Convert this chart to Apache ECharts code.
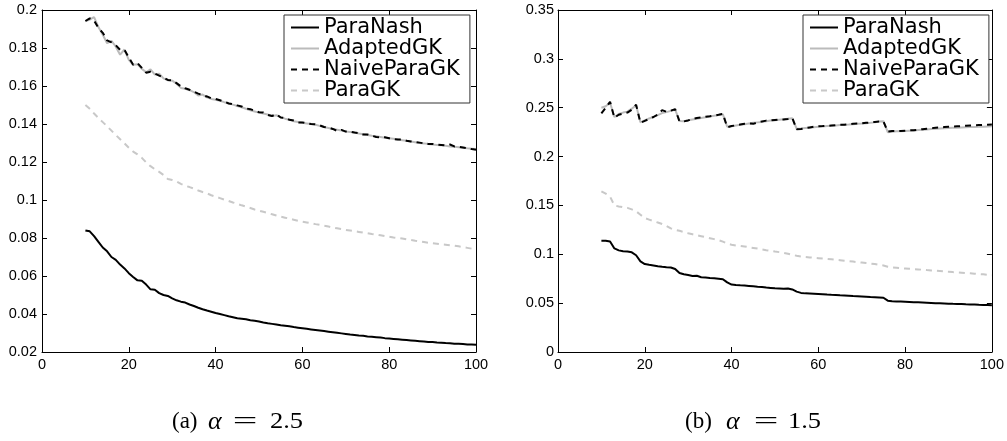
<!DOCTYPE html>
<html><head><meta charset="utf-8">
<script src="https://cdn.jsdelivr.net/npm/echarts@6/dist/echarts.min.js"></script>
<style>html,body{margin:0;padding:0;background:#fff}#c{width:1007px;height:441px}</style>
</head><body><div id="c"></div>
<script>
const seriesNames = ['ParaNash', 'AdaptedGK', 'NaiveParaGK', 'ParaGK'];
const xValues = [10,11,12,13,14,15,16,17,18,19,20,21,22,23,24,25,26,27,28,29,30,31,32,33,34,35,36,37,38,39,40,41,42,43,44,45,46,47,48,49,50,51,52,53,54,55,56,57,58,59,60,61,62,63,64,65,66,67,68,69,70,71,72,73,74,75,76,77,78,79,80,81,82,83,84,85,86,87,88,89,90,91,92,93,94,95,96,97,98,99,100];
const xTicks = [0, 20, 40, 60, 80, 100];
const leftYTicks = [0.02, 0.04, 0.06, 0.08, 0.1, 0.12, 0.14, 0.16, 0.18, 0.2];
const rightYTicks = [0, 0.05, 0.1, 0.15, 0.2, 0.25, 0.3, 0.35];
const captionLabels = ['(a)', '(b)'];
const captionAlphas = ['2.5', '1.5'];

const leftParaNash = [
0.0840,0.0835,0.0810,0.0780,0.0750,0.0730,0.0700,0.0685,0.0660,0.0640,
0.0615,0.0595,0.0577,0.0575,0.0555,0.0530,0.0528,0.0510,0.0500,0.0495,
0.0482,0.0472,0.0465,0.0460,0.0450,0.0442,0.0433,0.0425,0.0418,0.0412,
0.0405,0.0400,0.0394,0.0388,0.0383,0.0378,0.0375,0.0372,0.0367,0.0364,
0.0360,0.0355,0.0351,0.0348,0.0345,0.0341,0.0338,0.0335,0.0331,0.0328,
0.0325,0.0322,0.0319,0.0316,0.0313,0.0310,0.0307,0.0304,0.0301,0.0298,
0.0295,0.0292,0.0290,0.0287,0.0285,0.0282,0.0280,0.0278,0.0276,0.0273,
0.0271,0.0269,0.0267,0.0265,0.0263,0.0261,0.0259,0.0257,0.0255,0.0253,
0.0252,0.0250,0.0249,0.0247,0.0246,0.0244,0.0243,0.0242,0.0240,0.0239,
0.0238];
const leftAdaptedGK = [
0.1940,0.1950,0.1962,0.1910,0.1870,0.1825,0.1838,0.1807,0.1765,0.1792,
0.1738,0.1712,0.1715,0.1690,0.1672,0.1688,0.1660,0.1665,0.1640,0.1630,
0.1628,0.1612,0.1590,0.1585,0.1578,0.1568,0.1550,0.1555,0.1540,0.1532,
0.1528,0.1522,0.1515,0.1510,0.1502,0.1495,0.1488,0.1480,0.1472,0.1466,
0.1460,0.1455,0.1450,0.1442,0.1446,0.1436,0.1428,0.1422,0.1415,0.1410,
0.1406,0.1403,0.1400,0.1396,0.1390,0.1384,0.1379,0.1374,0.1370,0.1366,
0.1361,0.1358,0.1355,0.1350,0.1346,0.1342,0.1338,0.1335,0.1332,0.1328,
0.1325,0.1322,0.1318,0.1315,0.1312,0.1308,0.1304,0.1300,0.1298,0.1295,
0.1292,0.1290,0.1288,0.1285,0.1282,0.1280,0.1278,0.1275,0.1272,0.1270,
0.1268];
const leftNaiveParaGK = [
0.1942,0.1956,0.1945,0.1905,0.1880,0.1840,0.1830,0.1815,0.1790,0.1790,
0.1750,0.1712,0.1720,0.1695,0.1670,0.1675,0.1665,0.1655,0.1645,0.1632,
0.1630,0.1615,0.1598,0.1588,0.1580,0.1570,0.1560,0.1552,0.1545,0.1535,
0.1532,0.1525,0.1518,0.1508,0.1505,0.1498,0.1492,0.1482,0.1478,0.1470,
0.1462,0.1460,0.1448,0.1442,0.1452,0.1434,0.1432,0.1422,0.1418,0.1408,
0.1408,0.1404,0.1400,0.1398,0.1393,0.1384,0.1381,0.1374,0.1364,0.1369,
0.1360,0.1360,0.1355,0.1352,0.1345,0.1345,0.1338,0.1332,0.1330,0.1330,
0.1325,0.1320,0.1318,0.1318,0.1312,0.1308,0.1305,0.1302,0.1298,0.1295,
0.1295,0.1292,0.1290,0.1288,0.1292,0.1282,0.1280,0.1276,0.1272,0.1268,
0.1265];
const leftParaGK = [
0.1500,0.1480,0.1455,0.1432,0.1410,0.1388,0.1365,0.1342,0.1320,0.1298,
0.1275,0.1255,0.1240,0.1222,0.1198,0.1178,0.1162,0.1148,0.1132,0.1110,
0.1105,0.1098,0.1085,0.1075,0.1068,0.1060,0.1050,0.1042,0.1035,0.1025,
0.1018,0.1010,0.1002,0.0995,0.0987,0.0980,0.0972,0.0965,0.0958,0.0950,
0.0944,0.0938,0.0932,0.0925,0.0918,0.0912,0.0907,0.0902,0.0896,0.0890,
0.0886,0.0882,0.0878,0.0873,0.0869,0.0865,0.0860,0.0855,0.0851,0.0847,
0.0842,0.0839,0.0836,0.0832,0.0828,0.0825,0.0821,0.0818,0.0814,0.0810,
0.0807,0.0803,0.0800,0.0797,0.0793,0.0790,0.0786,0.0783,0.0779,0.0775,
0.0772,0.0770,0.0767,0.0765,0.0762,0.0760,0.0756,0.0752,0.0748,0.0744,
0.0740];

const rightParaNash = [
0.1138,0.1138,0.1130,0.1060,0.1040,0.1032,0.1028,0.1020,0.0990,0.0928,
0.0900,0.0892,0.0885,0.0878,0.0872,0.0868,0.0865,0.0850,0.0808,0.0795,
0.0788,0.0778,0.0780,0.0765,0.0762,0.0758,0.0755,0.0750,0.0745,0.0712,
0.0690,0.0685,0.0682,0.0680,0.0676,0.0672,0.0668,0.0665,0.0660,0.0656,
0.0652,0.0650,0.0648,0.0650,0.0640,0.0618,0.0605,0.0600,0.0598,0.0596,
0.0594,0.0592,0.0588,0.0585,0.0583,0.0580,0.0578,0.0575,0.0572,0.0570,
0.0568,0.0565,0.0562,0.0560,0.0558,0.0555,0.0525,0.0520,0.0518,0.0516,
0.0514,0.0512,0.0510,0.0508,0.0506,0.0504,0.0502,0.0500,0.0499,0.0497,
0.0495,0.0493,0.0492,0.0490,0.0488,0.0487,0.0485,0.0483,0.0482,0.0480,
0.0478];
const rightAdaptedGK = [
0.2500,0.2515,0.2550,0.2405,0.2435,0.2450,0.2460,0.2490,0.2525,0.2350,
0.2370,0.2390,0.2405,0.2425,0.2445,0.2455,0.2468,0.2480,0.2365,0.2362,
0.2372,0.2380,0.2388,0.2395,0.2402,0.2410,0.2418,0.2425,0.2432,0.2305,
0.2310,0.2318,0.2325,0.2330,0.2338,0.2345,0.2350,0.2355,0.2362,0.2368,
0.2372,0.2378,0.2382,0.2388,0.2392,0.2285,0.2288,0.2292,0.2296,0.2300,
0.2305,0.2308,0.2312,0.2315,0.2318,0.2322,0.2325,0.2328,0.2332,0.2335,
0.2338,0.2342,0.2345,0.2350,0.2358,0.2362,0.2250,0.2255,0.2258,0.2260,
0.2262,0.2265,0.2268,0.2272,0.2275,0.2278,0.2282,0.2285,0.2288,0.2290,
0.2292,0.2295,0.2296,0.2298,0.2300,0.2302,0.2303,0.2305,0.2306,0.2308,
0.2310];
const rightNaiveParaGK = [
0.2442,0.2500,0.2560,0.2398,0.2428,0.2440,0.2450,0.2480,0.2530,0.2345,
0.2365,0.2385,0.2405,0.2430,0.2475,0.2458,0.2470,0.2485,0.2360,0.2360,
0.2370,0.2385,0.2395,0.2400,0.2408,0.2412,0.2420,0.2428,0.2438,0.2300,
0.2312,0.2320,0.2328,0.2335,0.2340,0.2335,0.2350,0.2360,0.2368,0.2370,
0.2375,0.2380,0.2380,0.2385,0.2395,0.2280,0.2282,0.2290,0.2298,0.2305,
0.2310,0.2312,0.2315,0.2318,0.2320,0.2325,0.2325,0.2330,0.2335,0.2338,
0.2340,0.2345,0.2348,0.2355,0.2360,0.2360,0.2255,0.2262,0.2260,0.2262,
0.2265,0.2268,0.2270,0.2275,0.2280,0.2285,0.2290,0.2295,0.2298,0.2302,
0.2305,0.2308,0.2310,0.2312,0.2315,0.2318,0.2320,0.2322,0.2324,0.2326,
0.2328];
const rightParaGK = [
0.1645,0.1620,0.1590,0.1500,0.1490,0.1482,0.1475,0.1460,0.1440,0.1405,
0.1370,0.1355,0.1340,0.1325,0.1310,0.1290,0.1265,0.1250,0.1240,0.1228,
0.1215,0.1205,0.1195,0.1185,0.1175,0.1165,0.1155,0.1145,0.1130,0.1110,
0.1098,0.1090,0.1085,0.1080,0.1072,0.1065,0.1058,0.1050,0.1042,0.1035,
0.1028,0.1022,0.1015,0.1005,0.0995,0.0985,0.0978,0.0972,0.0968,0.0964,
0.0960,0.0956,0.0952,0.0948,0.0944,0.0940,0.0935,0.0930,0.0925,0.0920,
0.0915,0.0910,0.0905,0.0900,0.0892,0.0885,0.0872,0.0866,0.0862,0.0858,
0.0855,0.0852,0.0848,0.0845,0.0842,0.0838,0.0835,0.0832,0.0829,0.0826,
0.0822,0.0818,0.0815,0.0812,0.0808,0.0805,0.0802,0.0798,0.0795,0.0790,
0.0785];

const lineStyles = {
  ParaNash:    { color: '#000000', width: 2, type: 'solid' },
  AdaptedGK:   { color: '#bbbbbb', width: 2, type: 'solid' },
  NaiveParaGK: { color: '#000000', width: 2, type: [6, 5] },
  ParaGK:      { color: '#c8c8c8', width: 2, type: [6, 5] }
};

const chart = echarts.init(document.getElementById('c'), null, { renderer: 'canvas' });

const tickFont = { fontFamily: 'Liberation Sans', fontSize: 14.5, color: '#000' };
function xAxisPair(gi, ticks) {
  const base = {
    gridIndex: gi, type: 'value', min: ticks[0], max: ticks[ticks.length - 1],
    interval: ticks[1] - ticks[0], splitLine: { show: false },
    axisLine: { show: true, onZero: false, lineStyle: { color: '#000', width: 1 } },
    axisTick: { show: true, inside: true, length: 5, lineStyle: { color: '#000', width: 1 } }
  };
  return [
    Object.assign({}, base, { position: 'bottom',
      axisLabel: Object.assign({ show: true, margin: 5, showMinLabel: true, showMaxLabel: true, hideOverlap: false }, tickFont) }),
    Object.assign({}, base, { position: 'top', axisLabel: { show: false } })
  ];
}
function yAxisPair(gi, ticks, margin) {
  const base = {
    gridIndex: gi, type: 'value', min: ticks[0], max: ticks[ticks.length - 1],
    interval: Math.round((ticks[1] - ticks[0]) * 1000) / 1000, splitLine: { show: false },
    axisLine: { show: true, onZero: false, lineStyle: { color: '#000', width: 1 } },
    axisTick: { show: true, inside: true, length: 5, lineStyle: { color: '#000', width: 1 } }
  };
  return [
    Object.assign({}, base, { position: 'left',
      axisLabel: Object.assign({ show: true, margin: margin, showMinLabel: true, showMaxLabel: true, hideOverlap: false,
        formatter: v => String(Math.round(v * 1000) / 1000) }, tickFont) }),
    Object.assign({}, base, { position: 'right', axisLabel: { show: false } })
  ];
}

function pairs(vals) { return vals.map((v, i) => [xValues[i], v]); }
function mk(name, vals, axisIdx) {
  return {
    name: name, type: 'line', xAxisIndex: axisIdx, yAxisIndex: axisIdx,
    data: pairs(vals), symbol: 'none', showSymbol: false, smooth: false,
    lineStyle: lineStyles[name], itemStyle: { color: lineStyles[name].color },
    emphasis: { disabled: true }, silent: true
  };
}

const leftData = [leftParaNash, leftAdaptedGK, leftNaiveParaGK, leftParaGK];
const rightData = [rightParaNash, rightAdaptedGK, rightNaiveParaGK, rightParaGK];
const series = [];
seriesNames.forEach((n, i) => series.push(mk(n, leftData[i], 0)));
seriesNames.forEach((n, i) => series.push(mk(n, rightData[i], 2)));

function legendAt(left) {
  return {
    show: true, orient: 'vertical', left: left, top: 15,
    data: seriesNames, itemWidth: 28, itemHeight: 14, itemGap: 0,
    padding: [2, 10, 2, 6], borderColor: '#333', borderWidth: 1, backgroundColor: '#fff',
    selectedMode: false,
    itemStyle: { color: 'rgba(0,0,0,0)', borderWidth: 0, opacity: 0 },
    textStyle: { fontFamily: 'DejaVu Sans', fontSize: 21, lineHeight: 21, color: '#000' }
  };
}

const serif = 'Liberation Serif';
function caption(idx, x0, xa, xe, xn) {
  const y = 422;
  const st = { fontFamily: serif, fontSize: 23, fill: '#000', verticalAlign: 'middle' };
  return [
    { type: 'text', x: x0, y: y, style: Object.assign({ text: captionLabels[idx], align: 'left' }, st) },
    { type: 'text', x: xa, y: y, style: Object.assign({}, st, { text: 'α', align: 'left', fontStyle: 'italic', fontSize: 26 }) },
    { type: 'text', x: xe, y: y, scaleX: 1.9, style: Object.assign({ text: '=', align: 'center' }, st) },
    { type: 'text', x: xn, y: y, scaleX: 1.15, style: Object.assign({ text: captionAlphas[idx], align: 'left' }, st) }
  ];
}

chart.setOption({
  animation: false,
  backgroundColor: '#fff',
  grid: [
    { left: 42, top: 10, width: 434, height: 342, containLabel: false },
    { left: 558, top: 10, width: 434, height: 342, containLabel: false }
  ],
  xAxis: [].concat(xAxisPair(0, xTicks), xAxisPair(1, xTicks)),
  yAxis: [].concat(yAxisPair(0, leftYTicks, 5), yAxisPair(1, rightYTicks, 4)),
  legend: [legendAt(284), legendAt(803)],
  series: series,
  graphic: [].concat(caption(0, 172, 208, 245, 270), caption(1, 685, 726, 766, 788))
});
</script>
</body></html>
